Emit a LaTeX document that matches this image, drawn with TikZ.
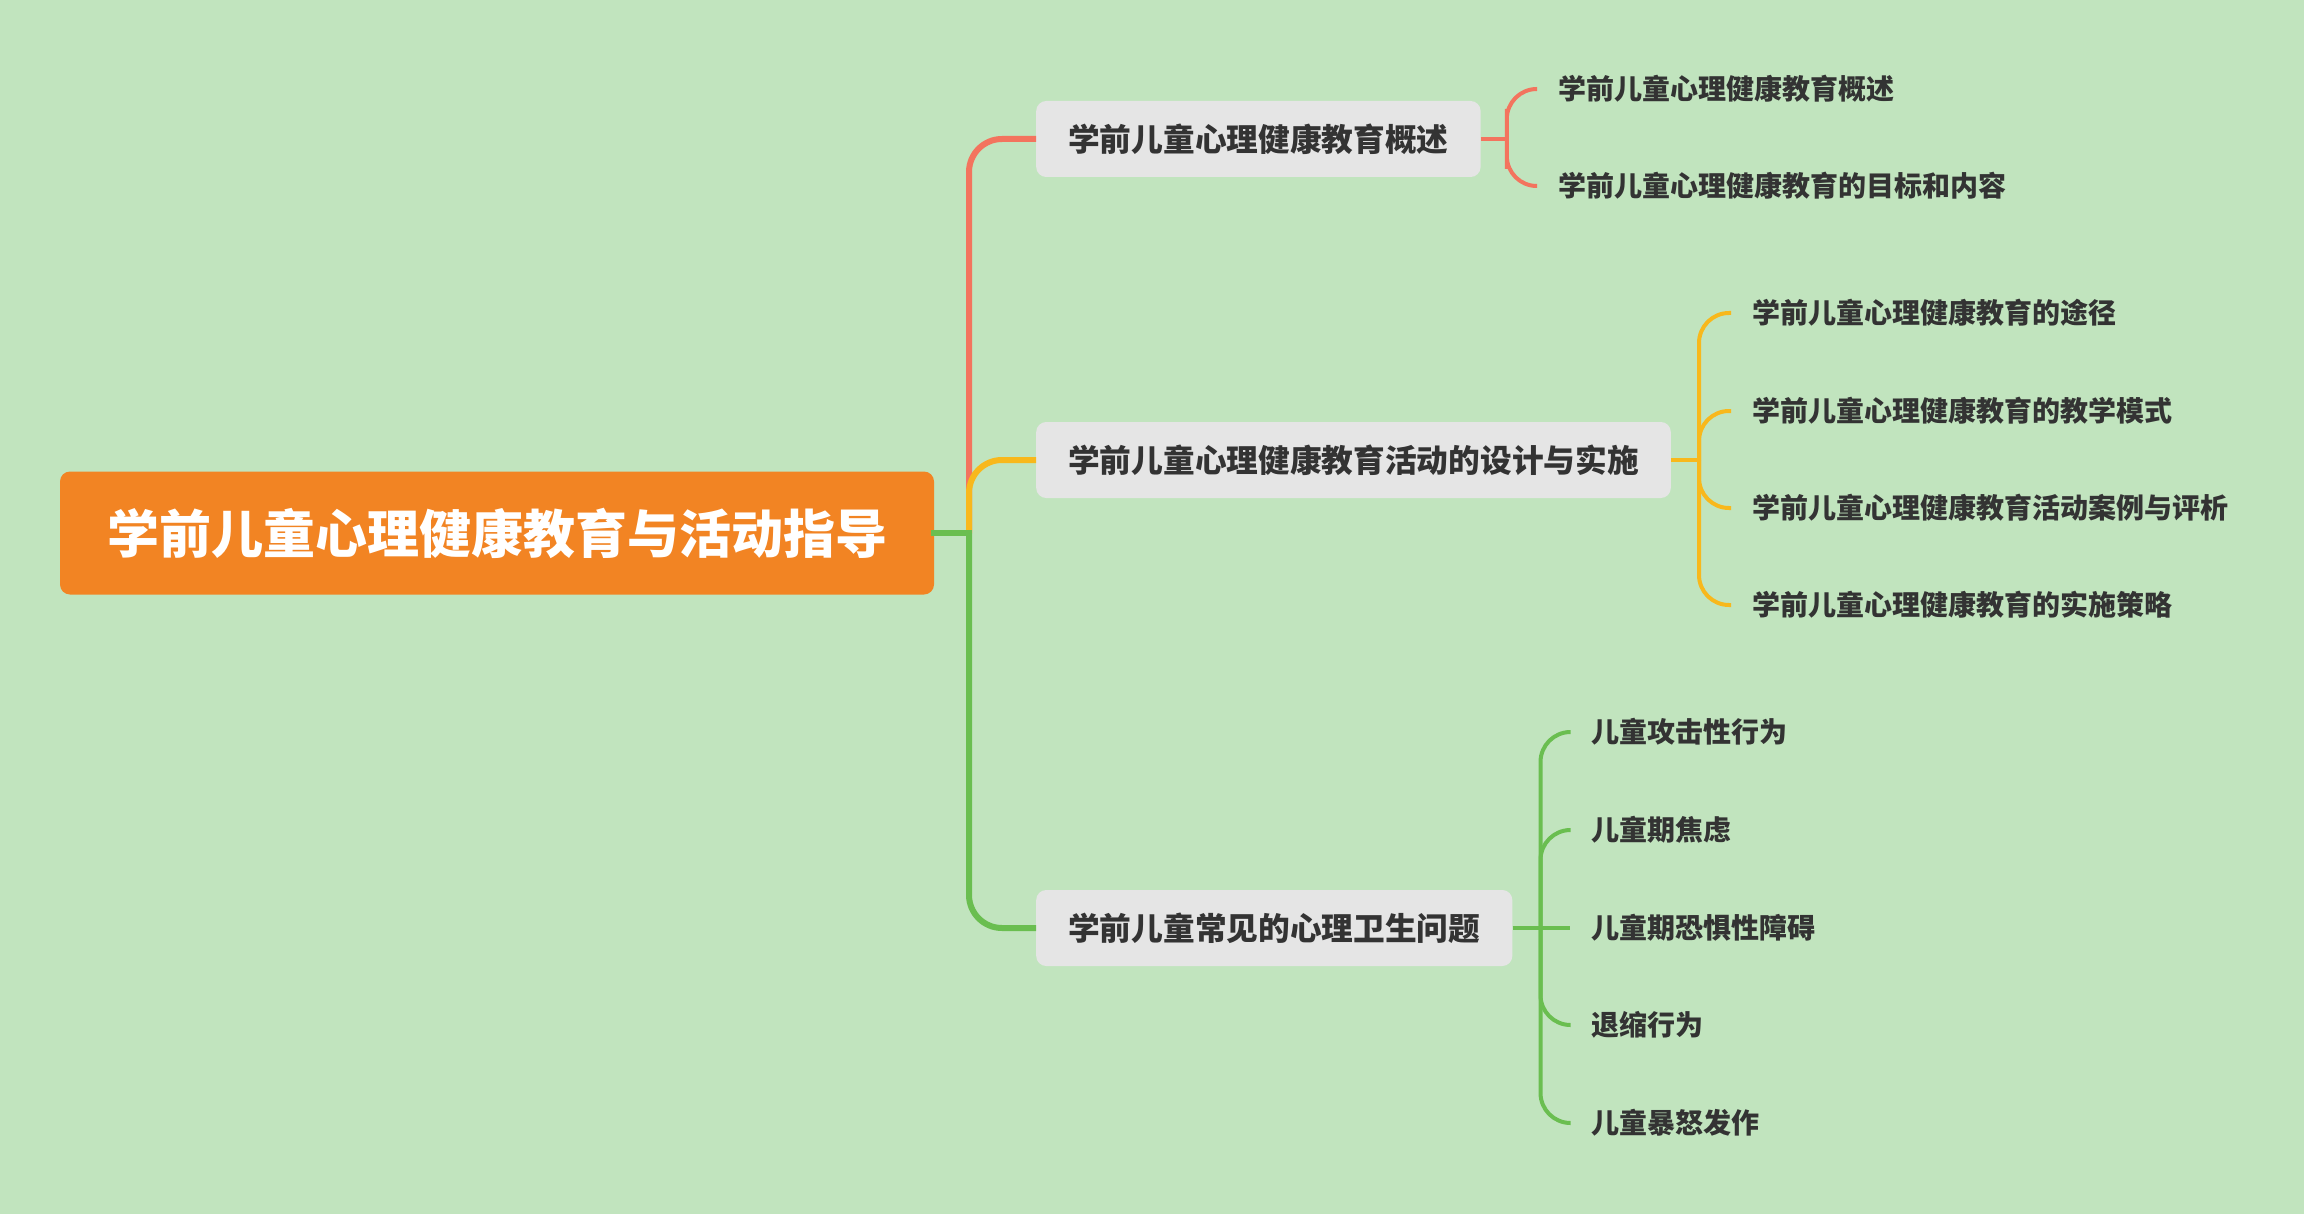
\documentclass[tikz,border=0pt]{standalone}
\usepackage{fontspec}
\setmainfont{Noto Sans CJK SC}
\usetikzlibrary{positioning,calc}

\definecolor{bgcol}{RGB}{193,228,190}
\definecolor{rootorange}{RGB}{242,132,35}
\definecolor{topicgray}{RGB}{229,229,229}
\definecolor{textdark}{RGB}{51,51,51}
\definecolor{redline}{RGB}{243,116,94}
\definecolor{yellowline}{RGB}{248,184,28}
\definecolor{greenline}{RGB}{106,190,80}

\begin{document}
\begin{tikzpicture}[
    x=1pt, y=-1pt,
    root/.style={fill=rootorange, text=white, rounded corners=10pt,
                 minimum width=874pt, minimum height=123pt, inner sep=0pt,
                 font=\fontsize{52}{60}\selectfont\bfseries},
    topic/.style={fill=topicgray, text=textdark, rounded corners=10pt, anchor=west,
                  inner xsep=32pt, inner ysep=0pt, minimum height=76pt,
                  font=\fontsize{31.7}{36}\selectfont\bfseries},
    leaf/.style={anchor=west, text=textdark, inner xsep=21pt, inner ysep=2pt,
                 font=\fontsize{28}{32}\selectfont\bfseries},
    branch/.style={line width=6pt, rounded corners=33pt},
    twig/.style={line width=4pt, rounded corners=30pt},
]

% background fixes the page size
\fill[bgcol] (0,0) rectangle (2304,1214);

% =====================  ROOT  =====================
\node[root] (root) at (497,533) {学前儿童心理健康教育与活动指导};
\coordinate (trunk) at (969,533);

% =====================  TOPICS  =====================
\node[topic] (overview) at (1036,139) {学前儿童心理健康教育概述};
\node[topic] (design)   at (1036,460) {学前儿童心理健康教育活动的设计与实施};
\node[topic] (problems) at (1036,928) {学前儿童常见的心理卫生问题};

\draw[branch, redline]    (trunk) |- (overview.west);
\draw[branch, yellowline] (trunk) |- (design.west);
\draw[branch, greenline, line cap=rect] (root.east) -- (trunk);
\draw[branch, greenline]  (trunk) |- (problems.west);

% =====================  OVERVIEW  =====================
\node[leaf] (ov1) at (1537,89)  {学前儿童心理健康教育概述};
\node[leaf] (ov2) at (1537,186) {学前儿童心理健康教育的目标和内容};

\coordinate (ovj) at ($(overview.east)+(26,0)$);
\draw[twig, redline] (overview.east) -- (ovj);
\draw[twig, redline] (ov1.west) -| (ovj) |- (ov2.west);

% =====================  DESIGN  =====================
\node[leaf] (de1) at (1731,313) {学前儿童心理健康教育的途径};
\node[leaf] (de2) at (1731,411) {学前儿童心理健康教育的教学模式};
\node[leaf] (de3) at (1731,508) {学前儿童心理健康教育活动案例与评析};
\node[leaf] (de4) at (1731,605) {学前儿童心理健康教育的实施策略};

\coordinate (dej) at ($(design.east)+(28,0)$);
\draw[twig, yellowline] (design.east) -- (dej);
\draw[twig, yellowline] (de1.west) -| (dej) |- (de4.west);
\draw[twig, yellowline] (dej) |- (de2.west);
\draw[twig, yellowline] (dej) |- (de3.west);

% =====================  PROBLEMS  =====================
\node[leaf] (pr1) at (1570,732)  {儿童攻击性行为};
\node[leaf] (pr2) at (1570,830)  {儿童期焦虑};
\node[leaf] (pr3) at (1570,928)  {儿童期恐惧性障碍};
\node[leaf] (pr4) at (1570,1025) {退缩行为};
\node[leaf] (pr5) at (1570,1123) {儿童暴怒发作};

\coordinate (prj) at ($(problems.east)+(28,0)$);
\draw[twig, greenline] (problems.east) -- (prj);
\draw[twig, greenline] (pr1.west) -| (prj) |- (pr5.west);
\draw[twig, greenline] (prj) |- (pr2.west);
\draw[twig, greenline] (prj) -- (pr3.west);
\draw[twig, greenline] (prj) |- (pr4.west);

\end{tikzpicture}
\end{document}
